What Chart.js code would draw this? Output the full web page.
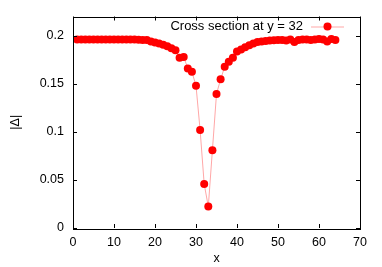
<!DOCTYPE html>
<html>
<head>
<meta charset="utf-8">
<script src="https://cdn.jsdelivr.net/npm/chart.js@4/dist/chart.umd.min.js"></script>
<style>
  html, body { margin: 0; padding: 0; background: #fff; }
  #wrap { width: 382px; height: 267px; }
</style>
</head>
<body>
<div id="wrap"><canvas id="chart"></canvas></div>
<script>
// cross section data
const xs = [];
for (let i = 1; i <= 64; i++) xs.push(i);
const gap = [
    0.196, 0.196, 0.196, 0.196, 0.196, 0.196, 0.196, 0.196,
    0.196, 0.196, 0.196, 0.196, 0.196, 0.196, 0.196, 0.1958,
    0.1955, 0.1955, 0.194, 0.193, 0.192, 0.1905, 0.189, 0.187,
    0.185, 0.177, 0.178, 0.166, 0.1625, 0.148, 0.102, 0.0457,
    0.0223, 0.0808, 0.1395, 0.1546, 0.1677, 0.173, 0.177, 0.1835,
    0.1856, 0.188, 0.190, 0.192, 0.1935, 0.194, 0.1945, 0.195,
    0.1952, 0.1955, 0.1955, 0.195, 0.196, 0.1935, 0.1955, 0.196,
    0.196, 0.1955, 0.196, 0.1965, 0.196, 0.194, 0.1965, 0.1955
];
const xTicks = [0, 10, 20, 30, 40, 50, 60, 70];
const yTicks = [0, 0.05, 0.1, 0.15, 0.2];
const legendLabel = 'Cross section at y = 32';

const FONT = 'Liberation Sans, Arial, sans-serif';

// gnuplot-style frame with inward ticks on all four sides
const framePlugin = {
    id: 'frame',
    afterDraw(chart) {
        const ctx = chart.ctx;
        const a = chart.chartArea;
        const xs_ = chart.scales.x, ys_ = chart.scales.y;
        const tl = 4;
        ctx.save();
        ctx.strokeStyle = '#000';
        ctx.lineWidth = 1;
        ctx.beginPath();
        xTicks.forEach(v => {
            const px = Math.round(xs_.getPixelForValue(v)) + 0.5;
            ctx.moveTo(px, a.bottom); ctx.lineTo(px, a.bottom - tl);
            ctx.moveTo(px, a.top); ctx.lineTo(px, a.top + tl);
        });
        yTicks.forEach(v => {
            const py = Math.round(ys_.getPixelForValue(v)) + 0.5;
            ctx.moveTo(a.left, py); ctx.lineTo(a.left + tl, py);
            ctx.moveTo(a.right, py); ctx.lineTo(a.right - tl, py);
        });
        ctx.stroke();
        ctx.strokeRect(Math.round(a.left) + 0.5, Math.round(a.top) + 0.5,
            Math.round(a.right - a.left), Math.round(a.bottom - a.top));

        // key in the top right corner
        const ky = a.top + 10;
        const lineX1 = a.right - 49, lineX2 = a.right - 16;
        ctx.font = '13px ' + FONT;
        ctx.fillStyle = '#000';
        ctx.textAlign = 'right';
        ctx.textBaseline = 'middle';
        ctx.fillText(legendLabel, lineX1 - 8, ky);
        ctx.strokeStyle = 'rgba(255, 0, 0, 0.35)';
        ctx.beginPath();
        ctx.moveTo(lineX1, ky + 0.5); ctx.lineTo(lineX2, ky + 0.5);
        ctx.stroke();
        ctx.fillStyle = '#ff0000';
        ctx.beginPath();
        ctx.arc((lineX1 + lineX2) / 2, ky, 4, 0, Math.PI * 2);
        ctx.fill();
        ctx.restore();
    }
};

new Chart(document.getElementById('chart'), {
    type: 'scatter',
    data: {
        datasets: [{
            label: legendLabel,
            data: xs.map((x, i) => ({ x: x, y: gap[i] })),
            showLine: true,
            borderColor: 'rgba(255, 0, 0, 0.35)',
            borderWidth: 1,
            backgroundColor: '#ff0000',
            pointBackgroundColor: '#ff0000',
            pointBorderWidth: 0,
            pointRadius: 4,
            tension: 0
        }]
    },
    options: {
        responsive: true,
        maintainAspectRatio: false,
        animation: false,
        layout: { padding: { left: 0, right: 22, top: 15, bottom: 0 } },
        plugins: {
            legend: { display: false },
            tooltip: { enabled: false }
        },
        scales: {
            x: {
                type: 'linear',
                min: 0,
                max: 70,
                afterBuildTicks: s => { s.ticks = xTicks.map(v => ({ value: v })); },
                afterFit: s => { s.height = 39; },
                grid: { display: false, drawTicks: false },
                border: { display: false },
                ticks: { color: '#000', padding: 7, font: { family: FONT, size: 12.5 } },
                title: {
                    display: true,
                    text: 'x',
                    color: '#000',
                    font: { family: FONT, size: 12.5 },
                    padding: { top: 0, bottom: 1 }
                }
            },
            y: {
                min: 0,
                max: 0.22,
                afterBuildTicks: s => { s.ticks = yTicks.map(v => ({ value: v })); },
                afterFit: s => { s.width = 73; },
                grid: { display: false, drawTicks: false },
                border: { display: false },
                ticks: {
                    color: '#000',
                    padding: 9,
                    font: { family: FONT, size: 12.5 },
                    callback: v => String(parseFloat(v.toFixed(2)))
                },
                title: {
                    display: true,
                    text: '|Δ|',
                    color: '#000',
                    font: { family: FONT, size: 12.5 },
                    padding: { top: 8, bottom: 0 }
                }
            }
        }
    },
    plugins: [framePlugin]
});
</script>
</body>
</html>
